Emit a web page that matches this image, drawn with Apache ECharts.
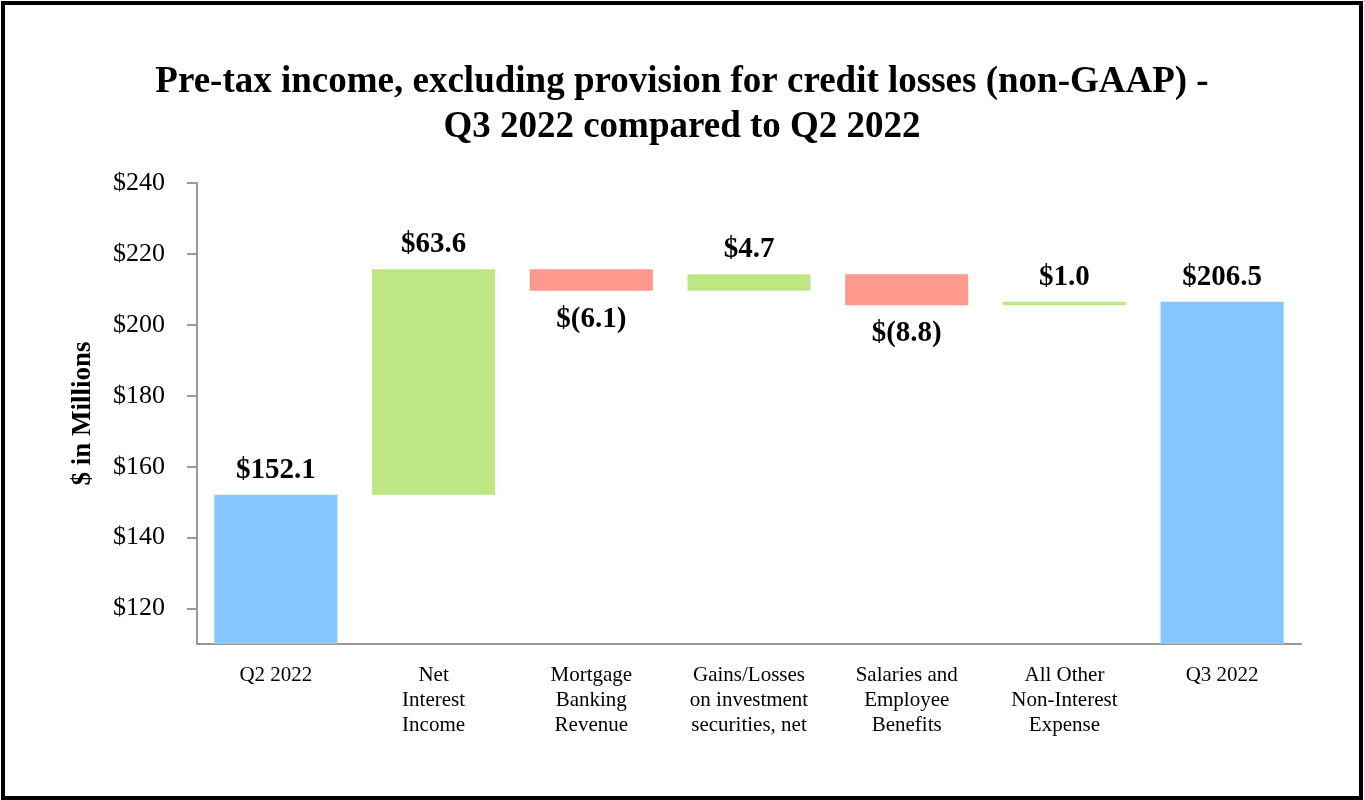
<!DOCTYPE html>
<html>
<head>
<meta charset="utf-8">
<script src="https://cdn.jsdelivr.net/npm/echarts@6/dist/echarts.min.js"></script>
<style>
html,body{margin:0;padding:0;background:#fff;}
#chart{width:1364px;height:800px;}
</style>
</head>
<body>
<div id="chart"></div>
<script>
var categories = ['Q2 2022', 'Net\nInterest\nIncome', 'Mortgage\nBanking\nRevenue', 'Gains/Losses\non investment\nsecurities, net', 'Salaries and\nEmployee\nBenefits', 'All Other\nNon-Interest\nExpense', 'Q3 2022'];
var changes = [152.1, 63.6, -6.1, 4.7, -8.8, 1.0, 206.5];
var isTotal = [true, false, false, false, false, false, true];
var yTicks = [120, 140, 160, 180, 200, 220, 240];

var F = '"Liberation Serif", "Times New Roman", serif';
var baseData = [], upData = [], downData = [], totalData = [];
var running = 0;
for (var i = 0; i < changes.length; i++) {
  var v = changes[i];
  if (isTotal[i]) {
    running = v;
    baseData.push(0); totalData.push(v); upData.push('-'); downData.push('-');
  } else if (v >= 0) {
    baseData.push(running); upData.push(v); downData.push('-'); totalData.push('-');
    running += v;
  } else {
    running += v;
    baseData.push(running); downData.push(-v); upData.push('-'); totalData.push('-');
  }
}
function fmt(v) {
  return v < 0 ? '$(' + (-v).toFixed(1) + ')' : '$' + v.toFixed(1);
}
var lbl = {show: true, fontFamily: F, fontWeight: 'bold', fontSize: 29, color: '#000', distance: 10};
var chart = echarts.init(document.getElementById('chart'));
chart.setOption({
  animation: false,
  title: {
    text: 'Pre-tax income, excluding provision for credit losses (non-GAAP) -\nQ3 2022 compared to Q2 2022',
    left: 'center', top: 55,
    textStyle: {fontFamily: F, fontWeight: 'bold', fontSize: 37, lineHeight: 45, color: '#000'}
  },
  graphic: [{
    type: 'rect', silent: true,
    shape: {x: 3, y: 3, width: 1358, height: 795},
    style: {fill: 'none', stroke: '#000', lineWidth: 4}
  }],
  grid: {left: 197, right: 63, top: 183, bottom: 156},
  xAxis: {
    type: 'category', data: categories,
    axisLine: {lineStyle: {color: '#999', width: 2}},
    axisTick: {alignWithLabel: true, length: 11, lineStyle: {color: '#999', width: 2}},
    axisLabel: {fontFamily: F, fontSize: 21, lineHeight: 25, color: '#000', margin: 19, interval: 0}
  },
  yAxis: {
    type: 'value', min: 110, max: 240,
    name: '$ in Millions', nameLocation: 'middle', nameGap: 100, nameRotate: 90,
    nameTextStyle: {fontFamily: F, fontWeight: 'bold', fontSize: 27, color: '#000'},
    splitLine: {show: false},
    axisLine: {show: true, lineStyle: {color: '#999', width: 2}},
    axisTick: {show: true, length: 10, customValues: yTicks, lineStyle: {color: '#999', width: 2}},
    axisLabel: {fontFamily: F, fontSize: 26, color: '#000', margin: 32, customValues: yTicks,
      formatter: function (v) { return '$' + v; }}
  },
  series: [
    {type: 'bar', stack: 'w', data: baseData, barWidth: '78%', itemStyle: {color: 'transparent'}, silent: true},
    {type: 'bar', stack: 'w', data: upData, itemStyle: {color: '#BEE683'},
      label: Object.assign({}, lbl, {position: 'top', formatter: function (p) { return fmt(changes[p.dataIndex]); }})},
    {type: 'bar', stack: 'w', data: downData, itemStyle: {color: '#FF998D'},
      label: Object.assign({}, lbl, {position: 'bottom', distance: 14, formatter: function (p) { return fmt(changes[p.dataIndex]); }})},
    {type: 'bar', stack: 'w', data: totalData, itemStyle: {color: '#84C6FD'},
      label: Object.assign({}, lbl, {position: 'top', formatter: function (p) { return fmt(changes[p.dataIndex]); }})}
  ]
});
</script>
</body>
</html>
